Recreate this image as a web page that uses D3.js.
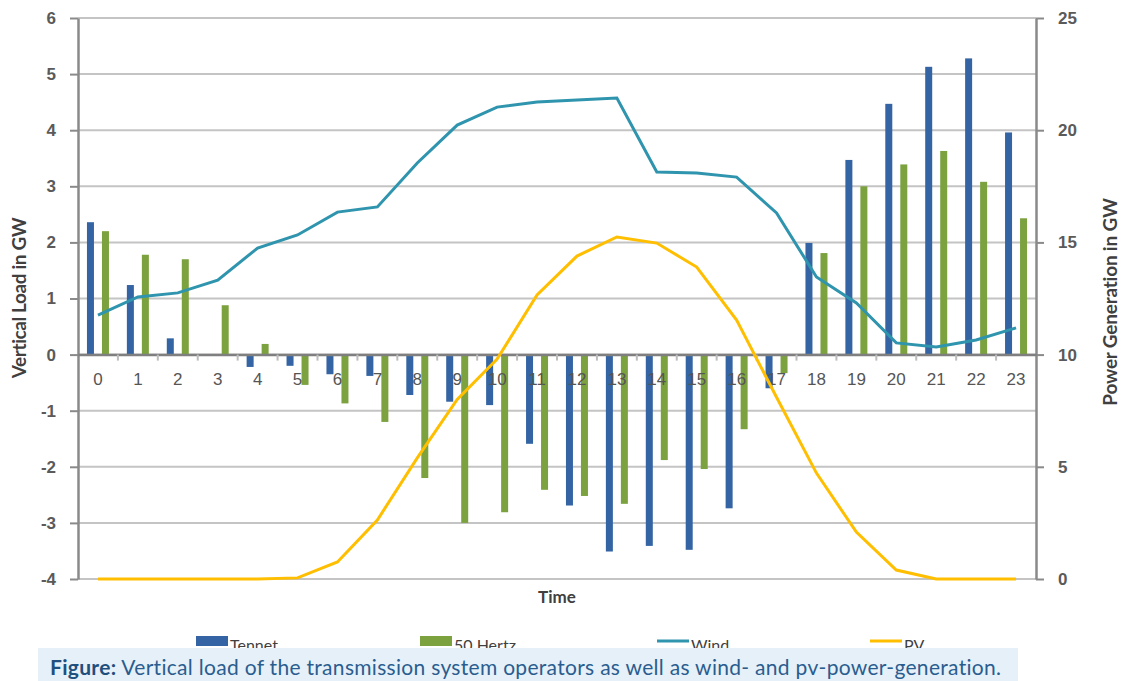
<!DOCTYPE html>
<html>
<head>
<meta charset="utf-8">
<script src="https://cdn.jsdelivr.net/npm/d3@7"></script>
<style>
  body { margin: 0; background: #fff; }
  svg { display: block; font-family: Lato, "Open Sans", sans-serif; }
</style>
</head>
<body>
<div id="chart"></div>
<script>
// hours of the day
const hours = d3.range(0, 24).map(String);

// vertical load per TSO in GW (left axis)
const tennet = [2.36, 1.24, 0.29, 0.0, -0.22, -0.2, -0.35, -0.38, -0.72, -0.84, -0.9, -1.59,
                -2.69, -3.51, -3.41, -3.48, -2.74, -0.6, 1.99, 3.47, 4.47, 5.13, 5.28, 3.96];
const hertz50 = [2.2, 1.78, 1.7, 0.88, 0.19, -0.54, -0.87, -1.2, -2.2, -3.0, -2.81, -2.41,
                 -2.52, -2.66, -1.88, -2.04, -1.33, -0.33, 1.81, 3.0, 3.39, 3.63, 3.08, 2.43];

// power generation in GW (right axis)
const wind = [11.76, 12.57, 12.75, 13.32, 14.75, 15.33, 16.35, 16.58, 18.54, 20.23, 21.03, 21.26,
              21.35, 21.43, 18.14, 18.09, 17.91, 16.31, 13.46, 12.3, 10.52, 10.34, 10.65, 11.19];
const pv = [0, 0, 0, 0, 0, 0.05, 0.76, 2.63, 5.4, 8.0, 9.8, 12.66,
            14.39, 15.24, 14.97, 13.9, 11.54, 8.1, 4.72, 2.09, 0.4, 0, 0, 0];

const leftTicks = d3.range(-4, 7);
const rightTicks = [0, 5, 10, 15, 20, 25];

const width = 1124, height = 681;
const plotLeft = 78, plotRight = 1036, plotTop = 18, plotBottom = 579;

const svg = d3.select("#chart").append("svg")
    .attr("width", width)
    .attr("height", height);

const x = d3.scaleBand().domain(hours).range([plotLeft, plotRight]).paddingInner(0).paddingOuter(0);
const yL = d3.scaleLinear().domain([-4, 6]).range([plotBottom, plotTop]);
const yR = d3.scaleLinear().domain([0, 25]).range([plotBottom, plotTop]);

// gridlines
svg.append("g")
    .selectAll("line")
    .data(leftTicks)
    .enter().append("line")
    .attr("x1", plotLeft).attr("x2", plotRight)
    .attr("y1", d => yL(d)).attr("y2", d => yL(d))
    .attr("stroke", "#c4c4c4")
    .attr("stroke-width", 2);

// left axis (plain hyphen minus like the original)
const axL = svg.append("g")
    .attr("transform", `translate(${plotLeft},0)`)
    .call(d3.axisLeft(yL).tickValues(leftTicks).tickFormat(d => String(d))
        .tickSize(8).tickPadding(14).tickSizeOuter(0));
axL.select(".domain").attr("stroke", "#8a8a8a").attr("stroke-width", 2.5);
axL.selectAll(".tick line").attr("stroke", "#8a8a8a").attr("stroke-width", 2);
axL.selectAll("text").attr("font-size", 17).attr("font-weight", "bold").attr("fill", "#5a5a5a");

// right axis
const axR = svg.append("g")
    .attr("transform", `translate(${plotRight},0)`)
    .call(d3.axisRight(yR).tickValues(rightTicks).tickSize(8).tickPadding(14).tickSizeOuter(0));
axR.select(".domain").attr("stroke", "#8a8a8a").attr("stroke-width", 2.5);
axR.selectAll(".tick line").attr("stroke", "#8a8a8a").attr("stroke-width", 2);
axR.selectAll("text").attr("font-size", 17).attr("font-weight", "bold").attr("fill", "#5a5a5a");

// bars
const barW = 7, barOff = 7.5;
svg.append("g")
    .selectAll("rect")
    .data(tennet)
    .enter().append("rect")
    .attr("x", (d, i) => x(hours[i]) + x.bandwidth() / 2 - barOff - barW / 2)
    .attr("width", barW)
    .attr("y", d => yL(Math.max(0, d)))
    .attr("height", d => Math.abs(yL(d) - yL(0)))
    .attr("fill", "#3464a3");

svg.append("g")
    .selectAll("rect")
    .data(hertz50)
    .enter().append("rect")
    .attr("x", (d, i) => x(hours[i]) + x.bandwidth() / 2 + barOff - barW / 2)
    .attr("width", barW)
    .attr("y", d => yL(Math.max(0, d)))
    .attr("height", d => Math.abs(yL(d) - yL(0)))
    .attr("fill", "#7ba23f");

// category axis at zero
const axX = svg.append("g")
    .attr("transform", `translate(0,${yL(0)})`)
    .call(d3.axisBottom(x).tickSize(0).tickPadding(18));
axX.select(".domain").attr("stroke", "#7f7f7f").attr("stroke-width", 2.5);
axX.selectAll("text").attr("font-size", 17).attr("fill", "#555");
svg.append("g")
    .selectAll("line")
    .data(hours.slice(1))
    .enter().append("line")
    .attr("x1", d => x(d)).attr("x2", d => x(d))
    .attr("y1", yL(0)).attr("y2", yL(0) + 6)
    .attr("stroke", "#bdbdbd")
    .attr("stroke-width", 2);

// lines
const lineGen = vals => d3.line()
    .x((d, i) => x(hours[i]) + x.bandwidth() / 2)
    .y(d => yR(d))(vals);

svg.append("path")
    .attr("d", lineGen(wind))
    .attr("fill", "none")
    .attr("stroke", "#2f94ad")
    .attr("stroke-width", 3);

svg.append("path")
    .attr("d", lineGen(pv))
    .attr("fill", "none")
    .attr("stroke", "#ffbf00")
    .attr("stroke-width", 3);

// axis titles
svg.append("text")
    .attr("transform", "translate(26,298) rotate(-90)")
    .attr("text-anchor", "middle")
    .attr("font-size", 19).attr("font-weight", "bold").attr("fill", "#404040")
    .attr("letter-spacing", -0.4)
    .text("Vertical Load in GW");

svg.append("text")
    .attr("transform", "translate(1117,302) rotate(-90)")
    .attr("text-anchor", "middle")
    .attr("font-size", 19).attr("font-weight", "bold").attr("fill", "#404040")
    .attr("letter-spacing", -0.2)
    .text("Power Generation in GW");

svg.append("text")
    .attr("x", 557).attr("y", 603)
    .attr("text-anchor", "middle")
    .attr("font-size", 17).attr("font-weight", "bold").attr("fill", "#404040")
    .text("Time");

// legend
const legend = [
    { name: "Tennet", color: "#3464a3", type: "rect", x: 196 },
    { name: "50 Hertz", color: "#7ba23f", type: "rect", x: 420 },
    { name: "Wind", color: "#2f94ad", type: "line", x: 657 },
    { name: "PV", color: "#ffbf00", type: "line", x: 870 }
];
const lg = svg.append("g").selectAll("g").data(legend).enter().append("g");
lg.filter(d => d.type === "rect").append("rect")
    .attr("x", d => d.x).attr("y", 636).attr("width", 32).attr("height", 10)
    .attr("fill", d => d.color);
lg.filter(d => d.type === "line").append("line")
    .attr("x1", d => d.x).attr("x2", d => d.x + 32)
    .attr("y1", 641).attr("y2", 641)
    .attr("stroke", d => d.color).attr("stroke-width", 3);
lg.append("text")
    .attr("x", d => d.x + 34).attr("y", 651)
    .attr("font-size", 16).attr("fill", "#404040")
    .text(d => d.name);

// caption, drawn over the lower part of the legend
svg.append("rect")
    .attr("x", 38).attr("y", 648).attr("width", 980).attr("height", 33)
    .attr("fill", "#e6f0f9");
const cap = svg.append("text")
    .attr("x", 50).attr("y", 675)
    .attr("font-size", 21).attr("fill", "#2a5d8f")
    .attr("letter-spacing", 0.3);
cap.append("tspan").attr("font-weight", "bold").attr("fill", "#1f4f7d").text("Figure:");
cap.append("tspan").text(" Vertical load of the transmission system operators as well as wind- and pv-power-generation.");
</script>
</body>
</html>
